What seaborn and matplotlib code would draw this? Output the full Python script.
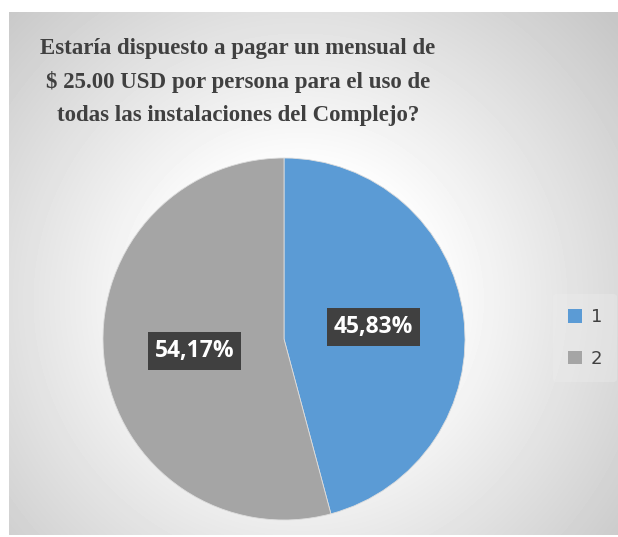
import numpy as np
import matplotlib
matplotlib.use("Agg")
import matplotlib.pyplot as plt
import seaborn as sns
from matplotlib.patches import Patch

categories = ["1", "2"]
values = [45.83, 54.17]
colors = ["#5B9BD5", "#A5A5A5"]
title = "Estaría dispuesto a pagar un mensual de\n$ 25.00 USD por persona para el uso de\ntodas las instalaciones del Complejo?"

sns.set_theme(style="white")
plt.rcParams['font.family'] = ['DejaVu Sans']

W, H = 618, 537
fig = plt.figure(figsize=(W / 100, H / 100), dpi=100)

# background with radial gradient inside frame
bg = fig.add_axes([0, 0, 1, 1])
yy, xx = np.mgrid[0:H, 0:W]
d = np.sqrt((xx - 300) ** 2 + (yy - 300) ** 2) / 420.0
t = np.clip((d - 0.3) / 0.7, 0, 1)
val = 1.0 - 0.22 * t
img = np.ones((H, W))
x0, x1, y0, y1 = 9, 618, 12, 535
img[y0:y1, x0:x1] = val[y0:y1, x0:x1]
bg.imshow(img, cmap="gray", vmin=0, vmax=1, extent=[0, W, H, 0], aspect="auto", interpolation="bilinear")
bg.set_xlim(0, W)
bg.set_ylim(H, 0)
bg.axis("off")

# pie axes
cx, cy, r = 284, 339, 181
ax = fig.add_axes([(cx - r) / W, (H - cy - r) / H, 2 * r / W, 2 * r / H])
ax.patch.set_alpha(0)
wedges, texts, autotexts = ax.pie(
    values, colors=colors, startangle=90, counterclock=False,
    autopct=lambda p: f"{p:.2f}%".replace(".", ","), pctdistance=0.5,
    wedgeprops=dict(edgecolor="#dddddd", linewidth=0.6), radius=1.0)
for t in autotexts:
    t.set_color("white")
    t.set_fontsize(16.5)
    t.set_fontweight("bold")
    t.set_fontfamily("Open Sans")
    t.set_bbox(dict(boxstyle="square,pad=0.3", facecolor="#404040", edgecolor="none"))
ax.set_xlim(-1, 1)
ax.set_ylim(-1, 1)
ax.axis("off")

fig.text(238 / W, 1 - 82 / H, title, ha="center", va="center",
         fontsize=16.5, fontweight="bold", family="Liberation Serif",
         color="#404040", linespacing=1.72)

handles = [Patch(facecolor=c, edgecolor="none") for c in colors]
leg = fig.legend(handles, categories, loc="center", bbox_to_anchor=(585 / W, 1 - 338 / H),
                 frameon=True, fontsize=13, labelspacing=1.3, handlelength=0.8,
                 handleheight=0.8, handletextpad=0.5, borderpad=0.8)
leg.get_frame().set_facecolor("#eeeeee")
leg.get_frame().set_edgecolor("none")
leg.get_frame().set_alpha(0.35)
for t in leg.get_texts():
    t.set_color("#404040")

fig.savefig("out.png", dpi=100)
